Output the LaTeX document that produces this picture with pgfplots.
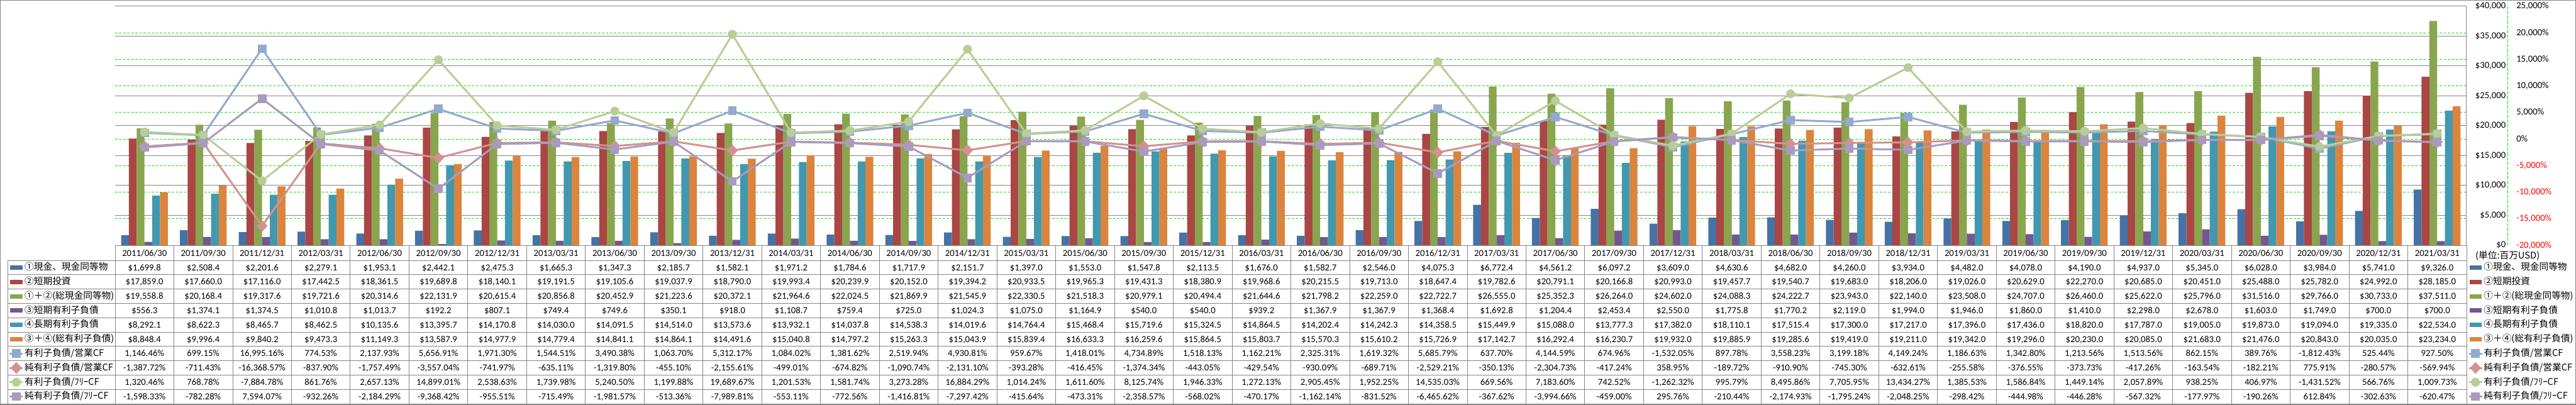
\documentclass[border=0pt]{standalone}
\usepackage{fontspec}
\setmainfont{Carlito}
\newfontfamily\cjk{Noto Sans CJK JP}
\usepackage{pgfplots}
\usepackage{pgfplotstable}
\pgfplotsset{compat=1.18}

\definecolor{c1}{RGB}{69,114,167}
\definecolor{c2}{RGB}{170,70,67}
\definecolor{c3}{RGB}{137,165,78}
\definecolor{c4}{RGB}{113,88,143}
\definecolor{c5}{RGB}{65,152,175}
\definecolor{c6}{RGB}{219,132,61}
\definecolor{c7}{RGB}{147,169,207}
\definecolor{c8}{RGB}{212,145,144}
\definecolor{c9}{RGB}{185,205,150}
\definecolor{c10}{RGB}{168,155,190}
\definecolor{gridgray}{RGB}{134,134,134}
\definecolor{pgreen}{RGB}{0,235,0}

\newcommand\fs{\fontsize{4.9}{5.6}\selectfont}

% quarterly values, USD million and percent
\pgfplotstableread{
x date cash sti tcash std ltd tdebt r1 r2 r3 r4
1 2011/06/30 1699.8 17859.0 19558.8 556.3 8292.1 8848.4 1146.46 -1387.72 1320.46 -1598.33
2 2011/09/30 2508.4 17660.0 20168.4 1374.1 8622.3 9996.4 699.15 -711.43 768.78 -782.28
3 2011/12/31 2201.6 17116.0 19317.6 1374.5 8465.7 9840.2 16995.16 -16368.57 -7884.78 7594.07
4 2012/03/31 2279.1 17442.5 19721.6 1010.8 8462.5 9473.3 774.53 -837.90 861.76 -932.26
5 2012/06/30 1953.1 18361.5 20314.6 1013.7 10135.6 11149.3 2137.93 -1757.49 2657.13 -2184.29
6 2012/09/30 2442.1 19689.8 22131.9 192.2 13395.7 13587.9 5656.91 -3557.04 14899.01 -9368.42
7 2012/12/31 2475.3 18140.1 20615.4 807.1 14170.8 14977.9 1971.30 -741.97 2538.63 -955.51
8 2013/03/31 1665.3 19191.5 20856.8 749.4 14030.0 14779.4 1544.51 -635.11 1739.98 -715.49
9 2013/06/30 1347.3 19105.6 20452.9 749.6 14091.5 14841.1 3490.38 -1319.80 5240.50 -1981.57
10 2013/09/30 2185.7 19037.9 21223.6 350.1 14514.0 14864.1 1063.70 -455.10 1199.88 -513.36
11 2013/12/31 1582.1 18790.0 20372.1 918.0 13573.6 14491.6 5312.17 -2155.61 19689.67 -7989.81
12 2014/03/31 1971.2 19993.4 21964.6 1108.7 13932.1 15040.8 1084.02 -499.01 1201.53 -553.11
13 2014/06/30 1784.6 20239.9 22024.5 759.4 14037.8 14797.2 1381.62 -674.82 1581.74 -772.56
14 2014/09/30 1717.9 20152.0 21869.9 725.0 14538.3 15263.3 2519.94 -1090.74 3273.28 -1416.81
15 2014/12/31 2151.7 19394.2 21545.9 1024.3 14019.6 15043.9 4930.81 -2131.10 16884.29 -7297.42
16 2015/03/31 1397.0 20933.5 22330.5 1075.0 14764.4 15839.4 959.67 -393.28 1014.24 -415.64
17 2015/06/30 1553.0 19965.3 21518.3 1164.9 15468.4 16633.3 1418.01 -416.45 1611.60 -473.31
18 2015/09/30 1547.8 19431.3 20979.1 540.0 15719.6 16259.6 4734.89 -1374.34 8125.74 -2358.57
19 2015/12/31 2113.5 18380.9 20494.4 540.0 15324.5 15864.5 1518.13 -443.05 1946.33 -568.02
20 2016/03/31 1676.0 19968.6 21644.6 939.2 14864.5 15803.7 1162.21 -429.54 1272.13 -470.17
21 2016/06/30 1582.7 20215.5 21798.2 1367.9 14202.4 15570.3 2325.31 -930.09 2905.45 -1162.14
22 2016/09/30 2546.0 19713.0 22259.0 1367.9 14242.3 15610.2 1619.32 -689.71 1952.25 -831.52
23 2016/12/31 4075.3 18647.4 22722.7 1368.4 14358.5 15726.9 5685.79 -2529.21 14535.03 -6465.62
24 2017/03/31 6772.4 19782.6 26555.0 1692.8 15449.9 17142.7 637.70 -350.13 669.56 -367.62
25 2017/06/30 4561.2 20791.1 25352.3 1204.4 15088.0 16292.4 4144.59 -2304.73 7183.60 -3994.66
26 2017/09/30 6097.2 20166.8 26264.0 2453.4 13777.3 16230.7 674.96 -417.24 742.52 -459.00
27 2017/12/31 3609.0 20993.0 24602.0 2550.0 17382.0 19932.0 -1532.05 358.95 -1262.32 295.76
28 2018/03/31 4630.6 19457.7 24088.3 1775.8 18110.1 19885.9 897.78 -189.72 995.79 -210.44
29 2018/06/30 4682.0 19540.7 24222.7 1770.2 17515.4 19285.6 3558.23 -910.90 8495.86 -2174.93
30 2018/09/30 4260.0 19683.0 23943.0 2119.0 17300.0 19419.0 3199.18 -745.30 7705.95 -1795.24
31 2018/12/31 3934.0 18206.0 22140.0 1994.0 17217.0 19211.0 4149.24 -632.61 13434.27 -2048.25
32 2019/03/31 4482.0 19026.0 23508.0 1946.0 17396.0 19342.0 1186.63 -255.58 1385.53 -298.42
33 2019/06/30 4078.0 20629.0 24707.0 1860.0 17436.0 19296.0 1342.80 -376.55 1586.84 -444.98
34 2019/09/30 4190.0 22270.0 26460.0 1410.0 18820.0 20230.0 1213.56 -373.73 1449.14 -446.28
35 2019/12/31 4937.0 20685.0 25622.0 2298.0 17787.0 20085.0 1513.56 -417.26 2057.89 -567.32
36 2020/03/31 5345.0 20451.0 25796.0 2678.0 19005.0 21683.0 862.15 -163.54 938.25 -177.97
37 2020/06/30 6028.0 25488.0 31516.0 1603.0 19873.0 21476.0 389.76 -182.21 406.97 -190.26
38 2020/09/30 3984.0 25782.0 29766.0 1749.0 19094.0 20843.0 -1812.43 775.91 -1431.52 612.84
39 2020/12/31 5741.0 24992.0 30733.0 700.0 19335.0 20035.0 525.44 -280.57 566.76 -302.63
40 2021/03/31 9326.0 28185.0 37511.0 700.0 22534.0 23234.0 927.50 -569.94 1009.73 -620.47
}\datatable

\pgfplotsset{
  barkey/.style={legend image code/.code={\fill[##1] (0.3pt,-1.17pt) rectangle (6.7pt,1.17pt);}},
  linekey/.style={legend image code/.code={%
    \draw[##1, sharp plot] (0pt,0pt) -- (7pt,0pt);
    \path[##1, sharp plot, only marks] plot coordinates {(3.5pt,0pt)};}},
  base/.style={scale only axis, width=1246.25pt, height=126.75pt,
    xmin=0.5, xmax=40.5, xtick=\empty, at={(0pt,0pt)}, anchor=south west,
    tick label style={font=\fs}, major tick length=0pt, ytick style={draw=none}},
  tablegend/.style={legend style={draw=none, fill=none, inner sep=0pt, outer sep=0pt,
    row sep=0pt, column sep=0.4pt, cells={anchor=west},
    nodes={inner sep=0pt, text height=5.2pt, text depth=2.4pt, font=\cjk\fs}}},
  l1/.style={color=c7, line width=1pt, mark=square*, mark size=2.1pt, mark options={solid, line width=0.3pt, fill=c7, draw=c7}, linekey},
  l2/.style={color=c8, line width=1pt, mark=diamond*, mark size=2.9pt, mark options={solid, xscale=1.25, line width=0.3pt, fill=c8, draw=c8}, linekey},
  l3/.style={color=c9, line width=1pt, mark=*, mark size=2.2pt, mark options={solid, line width=0.3pt, fill=c9, draw=c9}, linekey},
  l4/.style={color=c10, line width=1pt, mark=square*, mark size=2.1pt, mark options={solid, line width=0.3pt, fill=c10, draw=c10}, linekey},
  bk/.style={ybar, bar width=4.125pt, bar shift=#1, draw=none, barkey},
}

\begin{document}
\begin{tikzpicture}

% percent axis: dashed green grid and right-hand labels
\begin{axis}[base,
  ymin=-20000, ymax=25000,
  axis x line=none, axis y line*=right,
  y axis line style={pgreen, line width=0.3pt, dash pattern=on 1.7pt off 0.8pt, xshift=21.75pt},
  ymajorgrids, y grid style={pgreen, line width=0.3pt, dash pattern=on 1.25pt off 0.9pt},
  ytick={-20000,-15000,...,25000},
  yticklabels={{\color{red}-20,000\%},{\color{red}-15,000\%},{\color{red}-10,000\%},{\color{red}-5,000\%},{0\%},{5,000\%},{10,000\%},{15,000\%},{20,000\%},{25,000\%}},
  yticklabel style={anchor=west, inner sep=0pt, xshift=26.25pt},
]
\end{axis}

% dollar axis with the bars
\begin{axis}[base, tablegend,
  ymin=0, ymax=40000,
  axis x line=none, axis y line*=right,
  y axis line style={gridgray, line width=0.35pt},
  ymajorgrids, y grid style={gridgray, line width=0.35pt},
  ytick={0,5000,...,40000},
  yticklabels={{\$0},{\$5,000},{\$10,000},{\$15,000},{\$20,000},{\$25,000},{\$30,000},{\$35,000},{\$40,000}},
  yticklabel style={anchor=east, inner sep=0pt, xshift=21pt},
  legend style={at={(0,0)}, anchor=north west, xshift=-56.35pt, yshift=-8pt},
]
\addplot[bk=-10.3125pt, fill=c1] table[x=x, y=cash] {\datatable};
\addplot[bk=-6.1875pt, fill=c2] table[x=x, y=sti] {\datatable};
\addplot[bk=-2.0625pt, fill=c3] table[x=x, y=tcash] {\datatable};
\addplot[bk=2.0625pt, fill=c4] table[x=x, y=std] {\datatable};
\addplot[bk=6.1875pt, fill=c5] table[x=x, y=ltd] {\datatable};
\addplot[bk=10.3125pt, fill=c6] table[x=x, y=tdebt] {\datatable};
\addlegendimage{l1}
\addlegendimage{l2}
\addlegendimage{l3}
\addlegendimage{l4}
\legend{①現金、現金同等物,②短期投資,①＋②(総現金同等物),③短期有利子負債,④長期有利子負債,③＋④(総有利子負債),有利子負債/営業CF,純有利子負債/営業CF,有利子負債/ﾌﾘｰCF,純有利子負債/ﾌﾘｰCF}
\end{axis}

% data table under the plot
\begin{scope}[gridgray, line width=0.3pt]
  \draw (0pt,-0.15pt) -- (1246.25pt,-0.15pt);
  \foreach \k in {0,...,10} \draw (-57pt,{-8pt-7.6pt*\k}) -- (1246.25pt,{-8pt-7.6pt*\k});
  \foreach \j in {0,...,40} \draw ({31.15625pt*\j},0pt) -- ({31.15625pt*\j},-84pt);
  \draw (-57pt,-8pt) -- (-57pt,-84pt);
\end{scope}
\foreach \r in {0,...,39}{
  \pgfmathsetmacro\cx{31.15625*(\r+0.5)}
  \pgfplotstablegetelem{\r}{date}\of\datatable
  \node[anchor=base, inner sep=0pt, font=\fs] at (\cx pt,-5.75pt) {\pgfplotsretval};
  \foreach \col/\k in {cash/0,sti/1,tcash/2,std/3,ltd/4,tdebt/5}{
    \pgfplotstablegetelem{\r}{\col}\of\datatable
    \pgfmathsetmacro\cy{-8-3.8-7.6*\k-1.55}
    \node[anchor=base, inner sep=0pt, font=\fs] at (\cx pt,\cy pt)
      {\$\pgfmathprintnumber[fixed, fixed zerofill, precision=1, 1000 sep={,}, assume math mode=true]{\pgfplotsretval}};
  }
  \foreach \col/\k in {r1/6,r2/7,r3/8,r4/9}{
    \pgfplotstablegetelem{\r}{\col}\of\datatable
    \pgfmathsetmacro\cy{-8-3.8-7.6*\k-1.55}
    \node[anchor=base, inner sep=0pt, font=\fs] at (\cx pt,\cy pt)
      {\pgfmathprintnumber[fixed, fixed zerofill, precision=2, 1000 sep={,}, assume math mode=true]{\pgfplotsretval}\%};
  }
}
\node[anchor=base west, inner sep=0pt, font=\cjk\fs] at (1250.75pt,-7.1pt) {(単位:百万USD)};

% percent lines
\begin{axis}[base, tablegend,
  ymin=-20000, ymax=25000, axis lines=none, ytick=\empty,
  legend style={at={(1,0)}, anchor=north west, xshift=0.75pt, yshift=-8pt},
]
\addlegendimage{fill=c1, draw=none, barkey}
\addlegendimage{fill=c2, draw=none, barkey}
\addlegendimage{fill=c3, draw=none, barkey}
\addlegendimage{fill=c4, draw=none, barkey}
\addlegendimage{fill=c5, draw=none, barkey}
\addlegendimage{fill=c6, draw=none, barkey}
\addplot[l1] table[x=x, y=r1] {\datatable};
\addplot[l2] table[x=x, y=r2] {\datatable};
\addplot[l3] table[x=x, y=r3] {\datatable};
\addplot[l4] table[x=x, y=r4] {\datatable};
\legend{①現金、現金同等物,②短期投資,①＋②(総現金同等物),③短期有利子負債,④長期有利子負債,③＋④(総有利子負債),有利子負債/営業CF,純有利子負債/営業CF,有利子負債/ﾌﾘｰCF,純有利子負債/ﾌﾘｰCF}
\end{axis}

\draw[gridgray, line width=0.4pt] (-60.8pt,-84.3pt) rectangle (1304.05pt,129.8pt);
\pgfresetboundingbox
\path[use as bounding box] (-61pt,-84.5pt) rectangle (1304.25pt,130pt);
\end{tikzpicture}
\end{document}
